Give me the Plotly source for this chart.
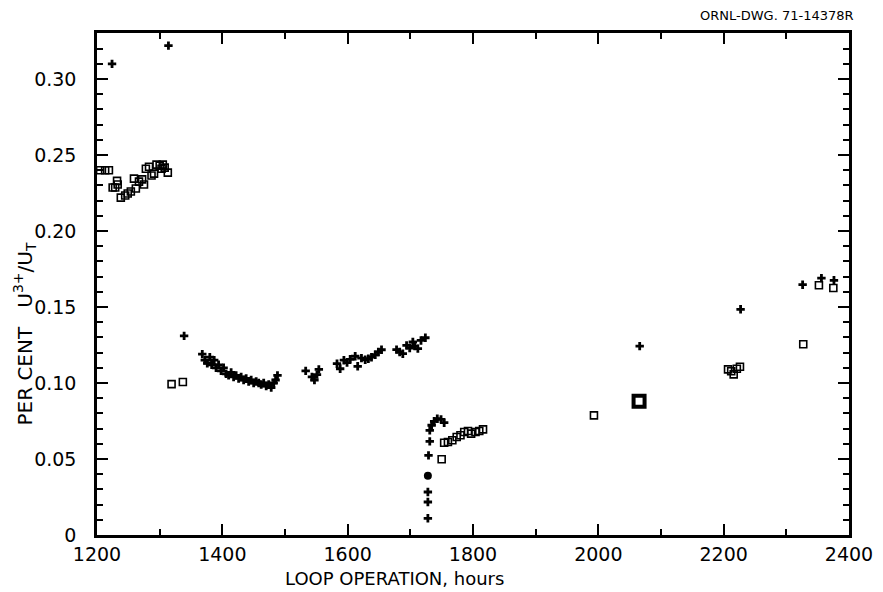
import plotly.graph_objects as go

# ---- data ----
cross_x = [1224, 1314, 1339,
           1368, 1372, 1376, 1380, 1383, 1387, 1390, 1394, 1398, 1402, 1406, 1410, 1414, 1418,
           1422, 1426, 1430, 1434, 1438, 1442, 1446, 1450, 1454, 1458, 1462, 1466, 1470, 1474,
           1478, 1482, 1485, 1488,
           1533, 1543, 1547, 1551, 1554,
           1583, 1588, 1594, 1599, 1604, 1612, 1616, 1622, 1628, 1633, 1638, 1644, 1649, 1654,
           1678, 1683, 1688, 1694, 1699, 1704, 1707, 1712, 1717, 1724,
           1728, 1728, 1728, 1729, 1731, 1731, 1734, 1738, 1743, 1749, 1754,
           2066, 2227, 2326, 2356, 2376]
cross_y = [0.310, 0.322, 0.131,
           0.119, 0.115, 0.113, 0.117, 0.112, 0.115, 0.110, 0.112, 0.108, 0.110, 0.106, 0.105, 0.107, 0.104,
           0.105, 0.103, 0.104, 0.102, 0.103, 0.101, 0.102, 0.100, 0.101, 0.100, 0.099, 0.100, 0.098, 0.099,
           0.097, 0.100, 0.102, 0.105,
           0.108, 0.104, 0.102, 0.1055, 0.109,
           0.1127, 0.1094, 0.115, 0.1134, 0.1156, 0.1176, 0.111, 0.1164, 0.1153, 0.116, 0.117, 0.1186, 0.1204, 0.1219,
           0.122, 0.1204, 0.1193, 0.1248, 0.123, 0.127, 0.1243, 0.1226, 0.128, 0.1298,
           0.011, 0.0217, 0.0283, 0.0524, 0.0616, 0.0689, 0.0722, 0.0748, 0.0765, 0.0761, 0.0739,
           0.1243, 0.1485, 0.1647, 0.169, 0.1676]

square_x = [1205, 1213, 1219, 1225, 1229, 1232, 1233, 1238, 1245, 1249, 1254, 1259, 1262, 1267,
            1272, 1275, 1278, 1283, 1287, 1291, 1295, 1300, 1303, 1305, 1308, 1313,
            1319, 1337,
            1750, 1754, 1760, 1767, 1774, 1780, 1786, 1792, 1797, 1804, 1810, 1816,
            1993,
            2207, 2212, 2216, 2221, 2226,
            2327, 2352, 2375]
square_y = [0.240, 0.240, 0.240, 0.2286, 0.2286, 0.233, 0.2306, 0.222, 0.2234, 0.2247, 0.226, 0.2345, 0.228, 0.2325,
            0.234, 0.2306, 0.241, 0.2423, 0.2365, 0.2378, 0.2437, 0.243, 0.241, 0.2437, 0.2417, 0.2384,
            0.0993, 0.1007,
            0.0498, 0.0607, 0.0612, 0.0623, 0.0645, 0.0656, 0.0678, 0.0684, 0.0667, 0.0678, 0.0684, 0.0695,
            0.0787,
            0.109, 0.1077, 0.1057, 0.1094, 0.1107,
            0.1255, 0.1643, 0.1625]

circle_x = [1728]
circle_y = [0.039]

bigsq_x = [2065]
bigsq_y = [0.0880]

x_ticks = [1200, 1400, 1600, 1800, 2000, 2200, 2400]
y_ticks = [0, 0.05, 0.10, 0.15, 0.20, 0.25, 0.30]
y_tick_text = ["0", "0.05", "0.10", "0.15", "0.20", "0.25", "0.30"]

FONT = "DejaVu Sans"

fig = go.Figure()
fig.add_trace(go.Scatter(x=cross_x, y=cross_y, mode="markers",
                         marker=dict(symbol="cross", size=7, color="black",
                                     line=dict(width=0))))
fig.add_trace(go.Scatter(x=square_x, y=square_y, mode="markers",
                         marker=dict(symbol="square-open", size=7, color="black",
                                     line=dict(width=1.6, color="black"))))
fig.add_trace(go.Scatter(x=circle_x, y=circle_y, mode="markers",
                         marker=dict(symbol="circle", size=8, color="black")))
fig.add_trace(go.Scatter(x=bigsq_x, y=bigsq_y, mode="markers",
                         marker=dict(symbol="square-open", size=11, color="black",
                                     line=dict(width=4, color="black"))))

fig.update_layout(
    width=883, height=592,
    margin=dict(l=89, r=42, t=25, b=65, autoexpand=False),
    paper_bgcolor="white", plot_bgcolor="white",
    showlegend=False,
    font=dict(family=FONT, color="black", size=16),
)
fig.update_xaxes(
    range=[1200, 2400], tickvals=x_ticks, ticktext=[str(v) for v in x_ticks],
    ticks="inside", ticklen=11, tickwidth=2, tickcolor="black",
    minor=dict(dtick=100, ticks="inside", ticklen=6, tickwidth=2, tickcolor="black"),
    showline=True, linewidth=2.5, linecolor="black", mirror="ticks",
    showgrid=False, zeroline=False, automargin=False,
    tickfont=dict(family=FONT, size=19),
)
fig.update_yaxes(
    range=[0, 0.3303], tickvals=y_ticks, ticktext=y_tick_text,
    ticks="inside", ticklen=11, tickwidth=2, tickcolor="black",
    minor=dict(dtick=0.01, ticks="inside", ticklen=6, tickwidth=1.5, tickcolor="black"),
    showline=True, linewidth=2.5, linecolor="black", mirror="ticks",
    showgrid=False, zeroline=False, automargin=False,
    ticklabelstandoff=14,
    tickfont=dict(family=FONT, size=19),
)
fig.add_annotation(text="ORNL-DWG. 71-14378R", xref="paper", yref="paper",
                   x=1.0093, y=1.034, xanchor="right", yanchor="middle",
                   showarrow=False, font=dict(family=FONT, size=13, color="black"))
fig.add_annotation(text="LOOP OPERATION, hours", xref="paper", yref="paper",
                   x=0.395, y=-0.0857, xanchor="center", yanchor="middle",
                   showarrow=False, font=dict(family=FONT, size=18, color="black"))
fig.add_annotation(text="PER CENT   U<sup>3+</sup>/U<sub>T</sub>", xref="paper", yref="paper",
                   x=-0.0966, y=0.40, xanchor="center", yanchor="middle", textangle=-90,
                   showarrow=False, font=dict(family=FONT, size=20, color="black"))

fig.write_html("out.html")
